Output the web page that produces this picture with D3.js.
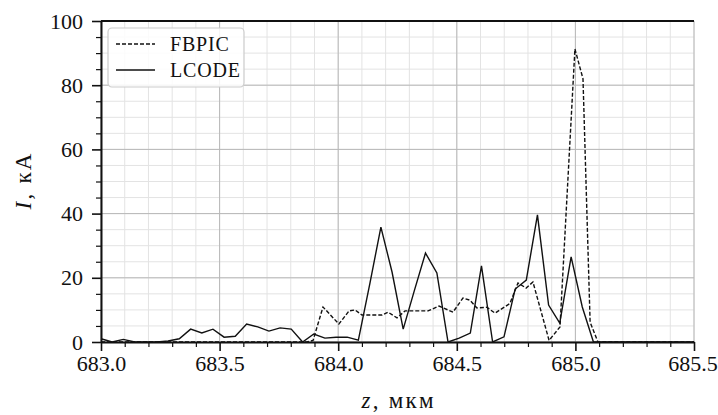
<!DOCTYPE html>
<html lang="ru">
<head>
<meta charset="UTF-8" />
<title>I(z)</title>
<script src="https://cdn.jsdelivr.net/npm/d3@7"></script>
<style>
  body { margin: 0; background: #fff; }
</style>
</head>
<body>
<div id="chart"></div>
<script>
// z, мкм  /  I, кА
const lcodeZ = [683.000, 683.047, 683.094, 683.142, 683.189, 683.236, 683.283, 683.330,
  683.378, 683.425, 683.472, 683.519, 683.566, 683.614, 683.661, 683.708, 683.755,
  683.802, 683.850, 683.897, 683.944, 683.991, 684.038, 684.085, 684.133, 684.180,
  684.227, 684.274, 684.321, 684.368, 684.416, 684.463, 684.510, 684.557, 684.604,
  684.651, 684.699, 684.746, 684.793, 684.840, 684.887, 684.934, 684.982, 685.029,
  685.076, 685.500];
const lcodeI = [1.0, 0.0, 0.8, 0.0, 0.0, 0.0, 0.3, 1.0,
  4.0, 2.8, 4.0, 1.5, 1.8, 5.6, 4.7, 3.4, 4.4,
  4.0, 0.0, 2.5, 1.2, 1.5, 1.5, 0.6, 18.0, 35.8,
  21.8, 4.0, 16.0, 27.7, 21.5, 0.0, 1.2, 2.8, 23.7,
  0.0, 1.6, 16.5, 19.3, 39.6, 11.5, 5.9, 26.5, 10.9,
  0.0, 0.0];

const fbpicZ = [683.000, 683.868, 683.894, 683.936, 684.003, 684.046, 684.071, 684.100,
  684.185, 684.210, 684.248, 684.282, 684.379, 684.425, 684.484, 684.526, 684.556,
  684.585, 684.627, 684.661, 684.724, 684.758, 684.792, 684.821, 684.889, 684.935,
  684.998, 685.032, 685.062, 685.095, 685.500];
const fbpicI = [0.0, 0.0, 0.5, 10.9, 5.6, 9.7, 10.0, 8.4,
  8.4, 9.3, 7.5, 9.7, 9.7, 11.2, 9.3, 13.7, 13.0,
  10.6, 10.8, 9.0, 12.0, 18.4, 16.8, 18.7, 0.5, 4.7,
  91.3, 82.0, 6.2, 0.0, 0.0];

const xTicks = [683.0, 683.5, 684.0, 684.5, 685.0, 685.5];
const yTicks = [0, 20, 40, 60, 80, 100];

const W = 718, H = 415;
const mLeft = 101, mRight = 694, mTop = 21, mBottom = 342;
const FONT = '"Liberation Serif", "Times New Roman", Tinos, serif';

const x = d3.scaleLinear().domain([683, 685.5]).range([mLeft, mRight]);
const y = d3.scaleLinear().domain([0, 100]).range([mBottom, mTop]);

const svg = d3.select("#chart").append("svg")
  .attr("width", W).attr("height", H);

// grid: minor then major
const xMinor = d3.range(683, 685.5001, 0.1);
const yMinor = d3.range(0, 100.001, 5);

svg.append("g").selectAll("line").data(xMinor).join("line")
  .attr("x1", d => x(d)).attr("x2", d => x(d))
  .attr("y1", mTop).attr("y2", mBottom)
  .attr("stroke", "#e3e3e3").attr("stroke-width", 1);
svg.append("g").selectAll("line").data(yMinor).join("line")
  .attr("x1", mLeft).attr("x2", mRight)
  .attr("y1", d => y(d)).attr("y2", d => y(d))
  .attr("stroke", "#e3e3e3").attr("stroke-width", 1);
svg.append("g").selectAll("line").data(xTicks).join("line")
  .attr("x1", d => x(d)).attr("x2", d => x(d))
  .attr("y1", mTop).attr("y2", mBottom)
  .attr("stroke", "#b8b8b8").attr("stroke-width", 1);
svg.append("g").selectAll("line").data(yTicks).join("line")
  .attr("x1", mLeft).attr("x2", mRight)
  .attr("y1", d => y(d)).attr("y2", d => y(d))
  .attr("stroke", "#b8b8b8").attr("stroke-width", 1);

// data lines
const line = d3.line().x(d => x(d[0])).y(d => y(d[1]));

svg.append("path")
  .datum(d3.zip(fbpicZ, fbpicI))
  .attr("fill", "none")
  .attr("stroke", "#111")
  .attr("stroke-width", 1.4)
  .attr("stroke-dasharray", "4,2")
  .attr("d", line);

svg.append("path")
  .datum(d3.zip(lcodeZ, lcodeI))
  .attr("fill", "none")
  .attr("stroke", "#111")
  .attr("stroke-width", 1.4)
  .attr("d", line);

// axes
const xAxis = d3.axisBottom(x).tickValues(xTicks).tickFormat(d3.format(".1f"))
  .tickSizeInner(9).tickSizeOuter(0).tickPadding(4);
const gx = svg.append("g").attr("transform", `translate(0,${mBottom})`).call(xAxis);
gx.selectAll(".tick line").attr("stroke", "#111").attr("stroke-width", 1.6);
gx.selectAll(".tick text").filter(d => d === 685.5).attr("dx", -1.5);

svg.append("g").attr("transform", `translate(0,${mBottom})`)
  .call(d3.axisBottom(x).tickValues(xMinor.filter(v => Math.abs(v * 2 - Math.round(v * 2)) > 1e-6))
    .tickSize(5).tickFormat(""))
  .call(g => g.select(".domain").remove())
  .selectAll(".tick line").attr("stroke", "#111").attr("stroke-width", 1.2);

const yAxis = d3.axisLeft(y).tickValues(yTicks)
  .tickSizeInner(9).tickSizeOuter(0).tickPadding(9);
const gy = svg.append("g").attr("transform", `translate(${mLeft},0)`).call(yAxis);
gy.selectAll(".tick line").attr("stroke", "#111").attr("stroke-width", 1.6);

svg.append("g").attr("transform", `translate(${mLeft},0)`)
  .call(d3.axisLeft(y).tickValues(yMinor.filter(v => v % 20 !== 0)).tickSize(5).tickFormat(""))
  .call(g => g.select(".domain").remove())
  .selectAll(".tick line").attr("stroke", "#111").attr("stroke-width", 1.2);

svg.selectAll(".domain").attr("stroke", "#111").attr("stroke-width", 2);
svg.selectAll(".tick text")
  .style("font-family", FONT)
  .style("font-size", "22px").attr("fill", "#111");

// top spine
svg.append("line")
  .attr("x1", mLeft).attr("x2", mRight)
  .attr("y1", mTop).attr("y2", mTop)
  .attr("stroke", "#111").attr("stroke-width", 2);

// axis labels
const xl = svg.append("text")
  .attr("x", (mLeft + mRight) / 2).attr("y", 408)
  .attr("text-anchor", "middle")
  .attr("textLength", 72).attr("lengthAdjust", "spacing")
  .style("font-family", FONT).style("font-size", "23px").attr("fill", "#111");
xl.append("tspan").style("font-style", "italic").text("z");
xl.append("tspan").text(", мкм");

const yl = svg.append("text")
  .attr("transform", `translate(31,${(mTop + mBottom) / 2}) rotate(-90)`)
  .attr("text-anchor", "middle")
  .attr("textLength", 56).attr("lengthAdjust", "spacing")
  .style("font-family", FONT).style("font-size", "23px").attr("fill", "#111");
yl.append("tspan").style("font-style", "italic").text("I");
yl.append("tspan").text(", кА");

// legend
const lg = svg.append("g");
lg.append("rect")
  .attr("x", 108).attr("y", 28).attr("width", 136).attr("height", 59)
  .attr("rx", 4).attr("fill", "#fff").attr("fill-opacity", 0.85)
  .attr("stroke", "#cccccc").attr("stroke-width", 1.2);
const legendItems = [["FBPIC", "4,2"], ["LCODE", null]];
legendItems.forEach((it, i) => {
  const cy = 44 + i * 26;
  lg.append("line")
    .attr("x1", 116).attr("x2", 155).attr("y1", cy).attr("y2", cy)
    .attr("stroke", "#111").attr("stroke-width", 1.4)
    .attr("stroke-dasharray", it[1]);
  lg.append("text")
    .attr("x", 170).attr("y", cy + 7)
    .style("font-family", FONT).style("font-size", "20px")
    .style("letter-spacing", "0.8px").attr("fill", "#111")
    .text(it[0]);
});
</script>
</body>
</html>
